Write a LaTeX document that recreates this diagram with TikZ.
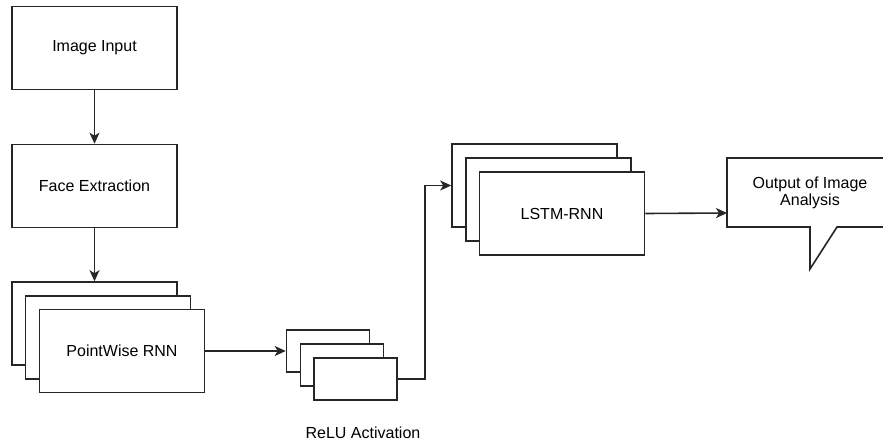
\documentclass[tikz,border=0pt]{standalone}
\usepackage{fontspec}
\setmainfont{Liberation Sans}
\usetikzlibrary{positioning,calc,arrows.meta}
\tikzset{
blk/.style={draw=black!85,fill=white,line width=1.6pt,inner sep=0pt,align=center,font=\fontsize{16}{19}\selectfont},
bigblk/.style={blk,minimum width=165pt,minimum height=83pt},
smallblk/.style={blk,minimum width=83pt,minimum height=42pt},
flowarrow/.style={-{Stealth[length=11pt,width=10pt,inset=3pt]},line width=1.6pt,black!85},
explain/.style={font=\fontsize{16}{19}\selectfont,align=center}
}
\begin{document}
\begin{tikzpicture}[x=1pt,y=-1pt]
\clip (0,0) rectangle (883,444);
\fill[white] (0,0) rectangle (883,444);
% left column
\node[bigblk] (img) at (94.5,48) {Image Input};
\node[bigblk] (face) at (94.5,186) {Face Extraction};
\node[bigblk] (pw1) at (94.5,323.5) {};
\node[bigblk] (pw2) at (108,337.5) {};
\node[bigblk] (pw3) at (122,351) {PointWise RNN};
% relu stack
\node[smallblk] (relu1) at (328,351) {};
\node[smallblk] (relu2) at (342,365) {};
\node[smallblk] (relu3) at (355.5,379) {};
\node[explain] (relulbl) at (363,433) {ReLU Activation};
% lstm stack
\node[bigblk] (lstm1) at (534.5,185.5) {};
\node[bigblk] (lstm2) at (548.5,199.5) {};
\node[bigblk] (lstm3) at (562,213.5) {LSTM-RNN};
% callout
\draw[line width=1.6pt,black!85,fill=white] (727,158) -- (890,158) -- (890,227) -- (837,227)
  -- (810,269) -- (810,227) -- (727,227) -- cycle;
\coordinate (outL) at (727,213);
\node[explain] (out) at (810,193) {Output of Image\\[-2pt]Analysis};
% arrows
\draw[flowarrow] (img) -- (face);
\draw[flowarrow] (face) -- (pw1);
\draw[flowarrow] (pw3) -- (relu1);
\draw[flowarrow] (relu3.east) -- ++(27,0) |- (lstm1.west);
\draw[flowarrow] (lstm3.east) -- (outL);
\end{tikzpicture}
\end{document}
